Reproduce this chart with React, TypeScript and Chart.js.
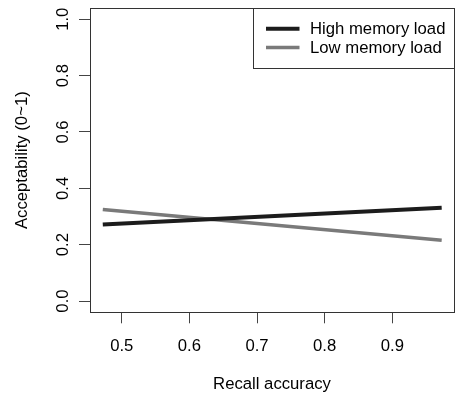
import React, { useEffect, useRef } from "react";
import { Chart, registerables } from "chart.js";

Chart.register(...registerables);

const seriesNames = ["High memory load", "Low memory load"];
const xEnds = [0.472, 0.973];
const highLoad = [0.272, 0.331];
const lowLoad = [0.325, 0.216];
const xTicks = [0.5, 0.6, 0.7, 0.8, 0.9];
const yTicks = [0.0, 0.2, 0.4, 0.6, 0.8, 1.0];
const xTitle = "Recall accuracy";
const yTitle = "Acceptability (0~1)";

const FONT = "Arial, 'Liberation Sans', sans-serif";
const FS = 16.7;

const customPlugin = {
  id: "rstyle",
  afterDraw(chart: any) {
    const ctx = chart.ctx;
    const a = chart.chartArea;
    ctx.save();
    ctx.strokeStyle = "#333";
    ctx.lineWidth = 1;
    ctx.strokeRect(Math.round(a.left) + 0.5, Math.round(a.top) + 0.5, Math.round(a.right - a.left), Math.round(a.bottom - a.top));

    // y tick labels, rotated like R
    const ys = chart.scales.y;
    ctx.fillStyle = "#000";
    ctx.font = `${FS}px ${FONT}`;
    ctx.textAlign = "center";
    ctx.textBaseline = "middle";
    yTicks.forEach((v) => {
      const py = ys.getPixelForValue(v);
      ctx.save();
      ctx.translate(63, py);
      ctx.rotate(-Math.PI / 2);
      ctx.fillText(v.toFixed(1), 0, 0);
      ctx.restore();
    });

    // legend
    const right = Math.round(a.right) + 0.5;
    const top = Math.round(a.top) + 0.5;
    const lx = 253.5;
    const lb = 68.5;
    ctx.fillStyle = "#fff";
    ctx.fillRect(lx, top, right - lx, lb - top);
    ctx.strokeStyle = "#333";
    ctx.strokeRect(lx, top, right - lx, lb - top);
    const rows = [28.7, 47.5];
    chart.data.datasets.forEach((ds: any, i: number) => {
      ctx.strokeStyle = ds.borderColor;
      ctx.lineWidth = ds.borderWidth;
      ctx.lineCap = "butt";
      ctx.beginPath();
      ctx.moveTo(266, rows[i]);
      ctx.lineTo(299.5, rows[i]);
      ctx.stroke();
      ctx.fillStyle = "#000";
      ctx.font = `${FS}px ${FONT}`;
      ctx.textAlign = "left";
      ctx.textBaseline = "middle";
      ctx.fillText(ds.label, 310, rows[i] + 0.5);
    });
    ctx.restore();
  },
};

export default function App() {
  const ref = useRef<HTMLCanvasElement>(null);
  useEffect(() => {
    document.body.style.margin = "0";
    const toPts = (ys: number[]) => xEnds.map((x, i) => ({ x, y: ys[i] }));
    const chart = new Chart(ref.current!, {
      type: "scatter",
      data: {
        datasets: [
          {
            label: seriesNames[0],
            data: toPts(highLoad),
            showLine: true,
            borderColor: "#1c1c1c",
            borderWidth: 4,
            pointRadius: 0,
          },
          {
            label: seriesNames[1],
            data: toPts(lowLoad),
            showLine: true,
            borderColor: "#7a7a7a",
            borderWidth: 3.5,
            pointRadius: 0,
          },
        ],
      },
      options: {
        responsive: false,
        animation: false,
        events: [],
        layout: { padding: { top: 8, right: 2, left: 0, bottom: 0 } },
        plugins: { legend: { display: false }, tooltip: { enabled: false } },
        scales: {
          x: {
            type: "linear",
            min: 0.4531,
            max: 0.9912,
            afterBuildTicks: (s: any) => {
              s.ticks = xTicks.map((v) => ({ value: v }));
            },
            afterFit: (s: any) => {
              s.height = 84.7;
            },
            grid: { drawOnChartArea: false, drawTicks: true, tickLength: 11, color: "#444" },
            border: { display: false },
            ticks: {
              color: "#000",
              font: { family: FONT, size: FS },
              padding: 13,
              maxRotation: 0,
              callback: (v: any) => Number(v).toFixed(1),
            },
            title: {
              display: true,
              text: xTitle,
              color: "#000",
              font: { family: FONT, size: FS },
              padding: { top: 0, bottom: 3 },
            },
          },
          y: {
            type: "linear",
            min: -0.04,
            max: 1.04,
            afterBuildTicks: (s: any) => {
              s.ticks = yTicks.map((v) => ({ value: v }));
            },
            afterFit: (s: any) => {
              s.width = 90;
            },
            grid: { drawOnChartArea: false, drawTicks: true, tickLength: 11, color: "#444" },
            border: { display: false },
            ticks: { display: false },
            title: {
              display: true,
              text: yTitle,
              color: "#000",
              font: { family: FONT, size: FS },
              padding: { top: 12, bottom: 0 },
            },
          },
        },
      },
      plugins: [customPlugin],
    });
    return () => chart.destroy();
  }, []);
  return (
    <div style={{ width: 456, height: 397 }}>
      <canvas ref={ref} width={456} height={397} style={{ display: "block" }} />
    </div>
  );
}
